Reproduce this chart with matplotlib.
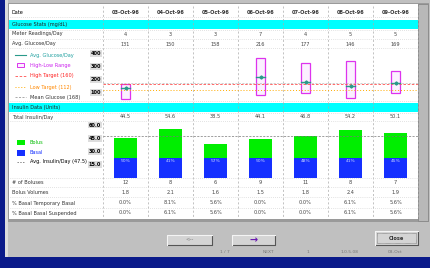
import numpy as np
import matplotlib
matplotlib.use("Agg")
import matplotlib.pyplot as plt
from matplotlib.patches import Rectangle

# column headers and table rows
dates = ["03-Oct-96", "04-Oct-96", "05-Oct-96", "06-Oct-96", "07-Oct-96", "08-Oct-96", "09-Oct-96"]
readings = [4, 3, 3, 7, 4, 5, 5]
avg_glucose = [131, 150, 158, 216, 177, 146, 169]
high_glucose = [161, None, None, 363, 324, 339, 262]
low_glucose = [46, None, None, 76, 92, 53, 92]
high_target = 160
low_target = 112
mean_glucose = 168
glucose_ticks = [100, 200, 300, 400]

total_insulin = [44.5, 54.6, 38.5, 44.1, 46.8, 54.2, 50.1]
basal = [22.1, 22.3, 22.0, 22.2, 22.4, 22.1, 22.3]
insulin_ticks = [15, 30, 45, 60]
boluses = [12, 8, 6, 9, 11, 8, 7]
bolus_vol = ["1.8", "2.1", "1.6", "1.5", "1.8", "2.4", "1.9"]
temp_basal = ["0.0%", "8.1%", "5.6%", "0.0%", "0.0%", "6.1%", "5.6%"]
susp_basal = ["0.0%", "6.1%", "5.6%", "0.0%", "0.0%", "6.1%", "5.6%"]

bolus = [t - b for t, b in zip(total_insulin, basal)]
avg_insulin = np.mean(total_insulin)

W, H = 430, 268
fig = plt.figure(figsize=(W / 100, H / 100), dpi=100)
fig.patch.set_facecolor("#c0c0c0")

# a pixel canvas for the window chrome
cv = fig.add_axes([0, 0, 1, 1])
cv.set_xlim(0, W)
cv.set_ylim(H, 0)
cv.axis("off")

def box(x0, y0, x1, y1, **kw):
    cv.add_patch(Rectangle((x0, y0), x1 - x0, y1 - y0, **kw))

def px_axes(x0, y0, x1, y1):
    return fig.add_axes([x0 / W, 1 - y1 / H, (x1 - x0) / W, (y1 - y0) / H])

fs = 3.6
# frame
box(0, 0, 5, H, color="#0a1a8a", lw=0)
box(0, 257, W, H, color="#0a1a8a", lw=0)
box(5, 0, 8, 257, color="#dcdcdc", lw=0)
box(8, 3, 429, 222, facecolor="#9a9a9a", lw=0)
box(9, 4, 418, 219, facecolor="white", lw=0)
box(418, 4, 428, 221, facecolor="#b8b8b8", edgecolor="#888888", lw=0.6)

left = 103
colw = 45
centers = [left + colw * (i + 0.5) for i in range(7)]

# cyan section bands
box(9, 20, 418, 29, color="#00ffff", lw=0)
box(9, 103, 418, 112, color="#00ffff", lw=0)
cv.text(12, 24.5, "Glucose Stats (mg/dL)", fontsize=fs, va="center", color="#222222")
cv.text(12, 107.5, "Insulin Data (Units)", fontsize=fs, va="center", color="#222222")

# grid lines
for i in range(8):
    cv.plot([left + colw * i] * 2, [6, 218], color="#aaaaaa", lw=0.5, ls=(0, (3, 3)))
for y in [17, 30, 39, 48, 101, 113, 121, 178, 187, 197, 208]:
    cv.plot([10, 418], [y, y], color="#c8c8c8", lw=0.5, ls=(0, (1, 2)))

# header and rows
cv.text(12, 12, "Date", fontsize=fs, va="center")
for c, d in zip(centers, dates):
    cv.text(c, 12, d, fontsize=fs, ha="center", va="center", weight="bold", color="#333333")

rows = [
    (34, "Meter Readings/Day", [str(v) for v in readings]),
    (44, "Avg. Glucose/Day", [str(v) for v in avg_glucose]),
    (117, "Total Insulin/Day", ["%.1f" % v for v in total_insulin]),
    (182, "# of Boluses", [str(v) for v in boluses]),
    (192, "Bolus Volumes", bolus_vol),
    (203, "% Basal Temporary Basal", temp_basal),
    (213, "% Basal Basal Suspended", susp_basal),
]
for y, lab, vals in rows:
    cv.text(12, y, lab, fontsize=fs, va="center", color="#333333")
    for c, v in zip(centers, vals):
        cv.text(c, y, v, fontsize=fs, ha="center", va="center", color="#444444")

# glucose chart
ga = px_axes(left, 48, 418, 101)
ga.set_xlim(-0.5, 6.5)
ga.set_ylim(30, 440)
ga.patch.set_alpha(0)
for s in ga.spines.values():
    s.set_visible(False)
ga.set_xticks([])
ga.set_yticks(glucose_ticks)
ga.tick_params(axis="y", length=0, pad=1.5, labelsize=3.6)
for t in ga.get_yticklabels():
    t.set_fontweight("bold")
    t.set_bbox(dict(facecolor="#dddddd", edgecolor="none", pad=0.6))
xs = np.arange(7)
ga.axhline(high_target, color="#ff5050", lw=0.6, ls=(0, (3, 2)))
ga.axhline(low_target, color="#ffaa00", lw=0.7, ls=(0, (1, 2)))
ga.axhline(mean_glucose, color="#bbbbbb", lw=0.5, ls=(0, (3, 2)))
for x, hi, lo, av in zip(xs, high_glucose, low_glucose, avg_glucose):
    if hi is None:
        continue
    ga.add_patch(Rectangle((x - 0.09, lo), 0.18, hi - lo, facecolor="#fbf0ff",
                           edgecolor="#dd33ee", lw=0.9))
    ga.plot([x - 0.09, x + 0.09], [av, av], color="#2a9a8a", lw=1.0)
    ga.plot(x, av, marker="D", ms=1.6, color="#2a9a8a")

# glucose legend
lx0, lx1, tx = 15, 26, 30
cv.plot([lx0, lx1], [55, 55], color="#2a9a8a", lw=0.8)
cv.text(tx, 55, "Avg. Glucose/Day", fontsize=fs, va="center", color="#20a0a0")
box(lx0 + 2, 63, lx1 - 2, 67, facecolor="#fbf0ff", edgecolor="#dd33ee", lw=0.7)
cv.text(tx, 65, "High-Low Range", fontsize=fs, va="center", color="#cc22ee")
cv.plot([lx0, lx1], [76, 76], color="#ff5050", lw=0.6, ls=(0, (3, 2)))
cv.text(tx, 76, "High Target (%d)" % high_target, fontsize=fs, va="center", color="#ff2020")
cv.plot([lx0, lx1], [87, 87], color="#ffaa00", lw=0.7, ls=(0, (1, 2)))
cv.text(tx, 87, "Low Target (%d)" % low_target, fontsize=fs, va="center", color="#ff8800")
cv.plot([lx0, lx1], [97, 97], color="#888888", lw=0.5, ls=(0, (3, 2)))
cv.text(tx, 97, "Mean Glucose (%d)" % mean_glucose, fontsize=fs, va="center", color="#333333")

# insulin chart
ia = px_axes(left, 121, 418, 177.5)
ia.set_xlim(-0.5, 6.5)
ia.set_ylim(0, 64)
ia.patch.set_alpha(0)
for s in ia.spines.values():
    s.set_visible(False)
ia.set_xticks([])
ia.set_yticks(insulin_ticks)
ia.set_yticklabels(["%.1f" % t for t in insulin_ticks])
ia.tick_params(axis="y", length=0, pad=1.5, labelsize=3.6)
for t in ia.get_yticklabels():
    t.set_fontweight("bold")
    t.set_bbox(dict(facecolor="#dddddd", edgecolor="none", pad=0.6))
ia.bar(xs, basal, width=0.51, color="#1530ff", lw=0)
ia.bar(xs, bolus, bottom=basal, width=0.51, color="#00ee00", lw=0)
ia.axhline(avg_insulin, color="#777777", lw=0.5, ls=(0, (3, 2)))
for x, b, t in zip(xs, basal, total_insulin):
    ia.text(x, b - 3.5, "%d%%" % round(100 * b / t), fontsize=3.2, ha="center",
            va="center", color="#ccd6ff")

box(17, 140, 25, 145, color="#00ee00", lw=0)
cv.text(tx, 142.5, "Bolus", fontsize=fs, va="center", color="#00bb00")
box(17, 150, 25, 156, color="#1530ff", lw=0)
cv.text(tx, 153, "Basal", fontsize=fs, va="center", color="#1530ff")
cv.plot([17, 25], [162, 162], color="#555555", lw=0.5, ls=(0, (2, 2)))
cv.text(tx, 162, "Avg. Insulin/Day (%.1f)" % avg_insulin, fontsize=fs, va="center")

# buttons
def button(x0, y0, x1, y1, label, color="#333333", size=fs):
    box(x0, y0, x1, y1, facecolor="#d4d4d4", edgecolor="none")
    cv.plot([x0, x1, x1], [y1, y1, y0], color="#555555", lw=0.8)
    cv.plot([x0, x0, x1], [y1, y0, y0], color="#f4f4f4", lw=0.8)
    cv.text((x0 + x1) / 2, (y0 + y1) / 2, label, fontsize=size, ha="center",
            va="center", color=color, weight="bold")

button(167, 235, 212, 245, "<--", color="#999999")
button(232, 235, 275, 245, "\u2192", color="#6a1ab0", size=7)
button(375, 231, 418, 245, "Close")
cv.plot([377, 416, 416, 377, 377], [233, 233, 243, 243, 233], color="#444444",
        lw=0.4, ls=(0, (1, 1)))

for x, s in [(225, "1 / 7"), (268, "NEXT"), (308, "1"), (350, "1.0.5.08"), (395, "03-Oct")]:
    cv.text(x, 252, s, fontsize=3.2, ha="center", va="center", color="#777777")

fig.savefig("out.png", dpi=100, facecolor=fig.get_facecolor())
